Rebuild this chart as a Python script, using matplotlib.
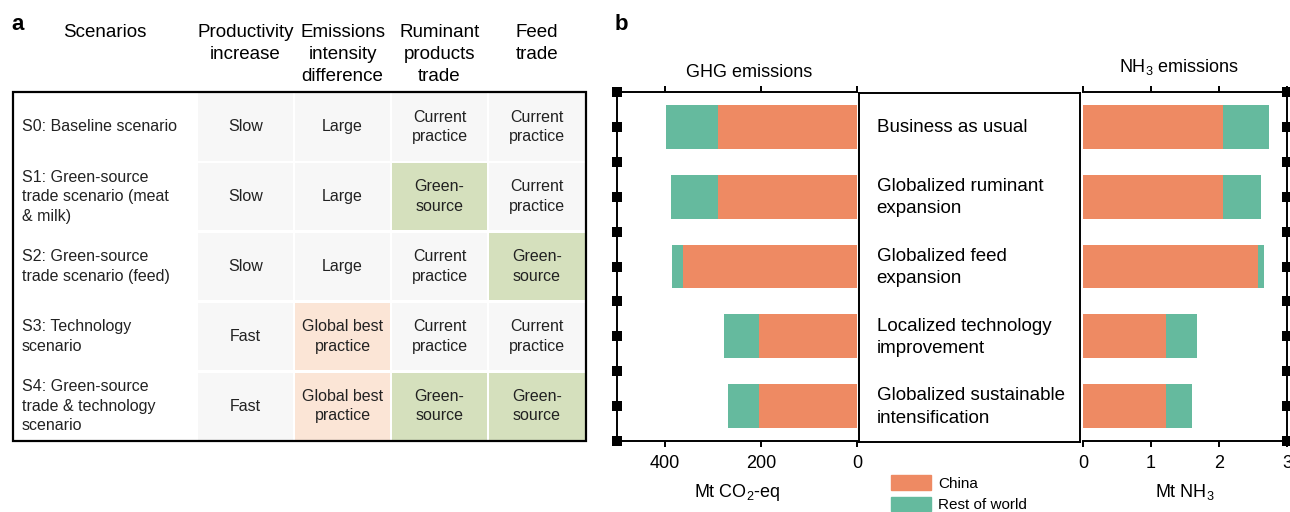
import numpy as np
import matplotlib
matplotlib.use('Agg')
import matplotlib.pyplot as plt
from matplotlib.patches import Rectangle, Patch

plt.rcParams['font.family'] = ['Liberation Sans', 'DejaVu Sans']
plt.rcParams['mathtext.fontset'] = 'custom'
plt.rcParams['mathtext.rm'] = 'Liberation Sans'
plt.rcParams['mathtext.default'] = 'regular'

# ---- panel a data
headers = ["Scenarios", "Productivity\nincrease", "Emissions\nintensity\ndifference",
           "Ruminant\nproducts\ntrade", "Feed\ntrade"]
scenarios = ["S0: Baseline scenario",
             "S1: Green-source\ntrade scenario (meat\n& milk)",
             "S2: Green-source\ntrade scenario (feed)",
             "S3: Technology\nscenario",
             "S4: Green-source\ntrade & technology\nscenario"]
productivity = ["Slow", "Slow", "Slow", "Fast", "Fast"]
intensity = ["Large", "Large", "Large", "Global best\npractice", "Global best\npractice"]
ruminant = ["Current\npractice", "Green-\nsource", "Current\npractice", "Current\npractice", "Green-\nsource"]
feed = ["Current\npractice", "Current\npractice", "Green-\nsource", "Current\npractice", "Green-\nsource"]

# ---- panel b data
pathways = ["Business as usual", "Globalized ruminant\nexpansion", "Globalized feed\nexpansion",
            "Localized technology\nimprovement", "Globalized sustainable\nintensification"]
ghg_china = np.array([290, 290, 362, 205, 205])
ghg_total = np.array([398, 387, 386, 277, 269])
nh3_china = np.array([2.06, 2.06, 2.58, 1.22, 1.22])
nh3_total = np.array([2.74, 2.62, 2.66, 1.68, 1.61])
ghg_rest = ghg_total - ghg_china
nh3_rest = nh3_total - nh3_china

ORANGE = '#ee8a63'
GREEN = '#65ba9e'
cell_colors = {"Green-\nsource": '#d5e0bd', "Global best\npractice": '#fbe5d6'}
GREY = '#f7f7f7'

W, H = 1290, 512
fig = plt.figure(figsize=(W / 100, H / 100), dpi=100)


def fax(x0, y0, x1, y1, **kw):
    return fig.add_axes([x0 / W, 1 - y1 / H, (x1 - x0) / W, (y1 - y0) / H], **kw)


# ================= panel a : table
ax_t = fax(0, 0, W, H)
ax_t.set_xlim(0, W)
ax_t.set_ylim(H, 0)
ax_t.axis('off')

col_edges = [13, 197, 294, 391, 488, 586]
top, bottom = 92, 441
row_h = (bottom - top) / len(scenarios)
columns = [scenarios, productivity, intensity, ruminant, feed]

for j, head in enumerate(headers):
    cx = (col_edges[j] + col_edges[j + 1]) / 2
    ax_t.text(cx, 24, head, ha='center', va='top', fontsize=13.5, linespacing=1.38)

for i in range(len(scenarios)):
    y0 = top + i * row_h
    cy = y0 + row_h / 2
    for j, col in enumerate(columns):
        x0, x1 = col_edges[j], col_edges[j + 1]
        if j == 0:
            ax_t.text(x0 + 9, cy, col[i], ha='left', va='center', fontsize=11.5,
                      linespacing=1.38, color='#222222')
            continue
        fc = cell_colors.get(col[i], GREY)
        ax_t.add_patch(Rectangle((x0 + 1.3, y0 + 1.3), x1 - x0 - 2.6, row_h - 2.6,
                                 facecolor=fc, edgecolor='none', zorder=1))
        ax_t.text((x0 + x1) / 2, cy, col[i], ha='center', va='center', fontsize=11.5,
                  linespacing=1.38, color='#222222', zorder=2)

ax_t.add_patch(Rectangle((col_edges[0], top), col_edges[-1] - col_edges[0], bottom - top,
                         facecolor='none', edgecolor='black', lw=1.6, zorder=3))
ax_t.text(18, 25, "a", ha='center', va='center', fontsize=16, fontweight='bold')
ax_t.text(621, 25, "b", ha='center', va='center', fontsize=16, fontweight='bold')

# ================= panel b : bars
y = np.arange(len(pathways))
marker_pos = np.arange(-0.5, len(pathways), 0.5)
bar_h = 0.63


def style_side(ax, side):
    ax.set_ylim(len(pathways) - 0.5, -0.5)
    for s in ax.spines.values():
        s.set_linewidth(1.4)
    ax.spines['left' if side == 'right' else 'right'].set_visible(False)
    ax.tick_params(axis='x', top=True, bottom=True, labeltop=False, direction='out',
                   length=4, width=1.4, labelsize=13, pad=6)
    ax.set_yticks(marker_pos)
    ax.tick_params(axis='y', left=(side == 'left'), right=(side == 'right'),
                   labelleft=False, labelright=False, length=7, width=0)
    for tick in ax.yaxis.get_major_ticks():
        for ln in (tick.tick1line, tick.tick2line):
            ln.set_marker('s')
            ln.set_markerfacecolor('black')
            ln.set_markeredgecolor('black')


ax_g = fax(617, 92, 857, 441)
ax_g.barh(y, ghg_china, height=bar_h, color=ORANGE, label='China')
ax_g.barh(y, ghg_rest, left=ghg_china, height=bar_h, color=GREEN, label='Rest of world')
ax_g.set_xlim(500, 0)
ax_g.set_xticks([400, 200, 0])
style_side(ax_g, 'left')
ax_g.set_xlabel("Mt CO$_2$-eq", fontsize=13, labelpad=7)
ax_g.text(0.55, 1.043, "GHG emissions", transform=ax_g.transAxes, ha='center',
          va='baseline', fontsize=13)

ax_m = fax(859, 93, 1080, 442)
ax_m.set_xlim(0, 1)
ax_m.set_ylim(len(pathways) - 0.5, -0.5)
ax_m.set_xticks([])
ax_m.set_yticks([])
for s in ax_m.spines.values():
    s.set_linewidth(1.4)
for i, name in enumerate(pathways):
    ax_m.text(0.08, y[i], name, ha='left', va='center', fontsize=13.5, linespacing=1.42)

ax_n = fax(1083, 92, 1287, 441)
ax_n.barh(y, nh3_china, height=bar_h, color=ORANGE)
ax_n.barh(y, nh3_rest, left=nh3_china, height=bar_h, color=GREEN)
ax_n.set_xlim(0, 3)
ax_n.set_xticks([0, 1, 2, 3])
style_side(ax_n, 'right')
ax_n.set_xlabel("Mt NH$_3$", fontsize=13, labelpad=7)
ax_n.text(0.47, 1.057, "NH$_3$ emissions", transform=ax_n.transAxes, ha='center',
          va='baseline', fontsize=13)

handles = [Patch(color=ORANGE, label='China'), Patch(color=GREEN, label='Rest of world')]
fig.legend(handles=handles, loc='upper left', bbox_to_anchor=(891 / W, 1 - 475 / H),
           frameon=False, fontsize=11, borderpad=0, borderaxespad=0, handlelength=2.6,
           handleheight=1.1, handletextpad=0.5, labelspacing=0.4)

fig.savefig('out.png', dpi=100)
